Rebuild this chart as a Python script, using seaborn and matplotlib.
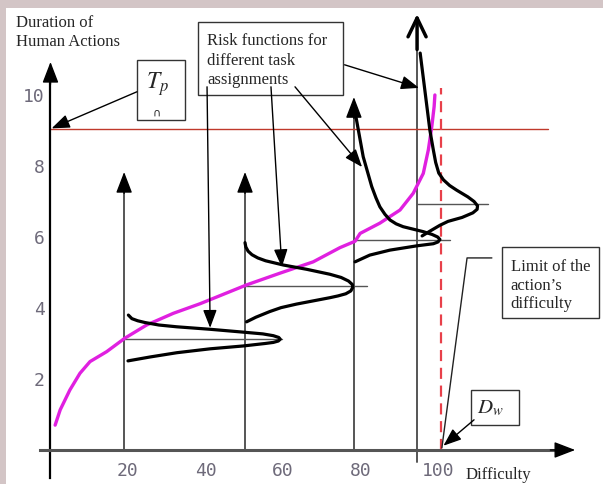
import numpy as np
import pandas as pd
import matplotlib
matplotlib.use('Agg')
from matplotlib import pyplot as plt
from matplotlib.patches import Rectangle
import seaborn as sns

sns.set_style('white')
plt.rcParams['font.family'] = ['Liberation Serif', 'DejaVu Sans']
plt.rcParams['mathtext.fontset'] = 'stix'

# duration of human actions vs difficulty (magenta curve)
dur_x = [1.2, 2.5, 5.0, 7.6, 10.2, 14.5, 19.2, 24.8, 31.7, 38.6, 42.0, 50.6, 59.2, 67.8,
         74.7, 78.6, 79.9, 85.0, 90.2, 93.6, 96.2, 97.5, 98.4, 99.0, 99.2]
dur_y = [0.70, 1.13, 1.69, 2.16, 2.49, 2.77, 3.15, 3.52, 3.85, 4.12, 4.27, 4.65, 4.98, 5.30,
         5.70, 5.88, 6.10, 6.39, 6.76, 7.23, 7.79, 8.45, 9.11, 9.67, 10.0]

# risk functions (sideways bells, x = risk, y = duration)
risk1_x = [20.1, 21.0, 22.5, 24.4, 28.0, 32.6, 41.2, 49.7, 54.8, 57.5, 58.9, 59.3, 58.8,
           57.5, 55.4, 49.7, 41.2, 32.6, 25.7, 20.0]
risk1_y = [3.80, 3.70, 3.64, 3.59, 3.52, 3.47, 3.40, 3.32, 3.27, 3.22, 3.17, 3.12, 3.07,
           3.03, 3.00, 2.93, 2.85, 2.74, 2.62, 2.51]

risk2_x = [50.2, 50.4, 51.0, 52.0, 53.5, 55.5, 60.1, 66.1, 72.1, 75.0, 76.9, 77.9, 78.0,
           77.5, 76.2, 74.2, 72.1, 63.5, 59.5, 56.6, 53.0, 50.6]
risk2_y = [5.84, 5.72, 5.60, 5.50, 5.41, 5.33, 5.21, 5.09, 4.95, 4.86, 4.76, 4.66, 4.58,
           4.48, 4.40, 4.34, 4.29, 4.11, 4.01, 3.90, 3.74, 3.61]

risk3_x = [78.8, 80.7, 82.9, 84.0, 85.0, 86.3, 87.6, 89.2, 91.0, 96.2, 98.5, 99.9, 100.5,
           100.0, 98.8, 94.5, 87.6, 82.4, 78.6]
risk3_y = [9.40, 8.26, 7.42, 7.10, 6.85, 6.64, 6.48, 6.37, 6.29, 6.15, 6.07, 6.00, 5.93,
           5.86, 5.81, 5.75, 5.63, 5.49, 5.30]

risk4_x = [95.4, 96.6, 97.9, 98.8, 99.4, 100.2, 101.4, 103.0, 104.8, 107.7, 109.3, 110.2,
           110.1, 109.0, 106.2, 102.6, 100.5, 98.0, 95.9]
risk4_y = [11.18, 10.14, 9.01, 8.45, 8.10, 7.80, 7.61, 7.45, 7.32, 7.13, 7.00, 6.88,
           6.78, 6.68, 6.55, 6.44, 6.33, 6.17, 6.03]

# task assignments
task_x = [19.0, 50.2, 78.3, 94.6]
task_top = [7.83, 7.83, 9.94, 12.28]
peak_y = [3.13, 4.62, 5.92, 6.93]
peak_end = [59.7, 81.7, 103.1, 112.9]

tp = 9.04          # available time
dw = 100.8         # limit of difficulty

x_ticks = [20, 40, 60, 80, 100]
y_ticks = [2, 4, 6, 8, 10]

curve = pd.DataFrame({'x': dur_x, 'y': dur_y})
risks = [pd.DataFrame({'x': a, 'y': b}) for a, b in
         [(risk1_x, risk1_y), (risk2_x, risk2_y), (risk3_x, risk3_y), (risk4_x, risk4_y)]]

#------------------------------------------------------------------------------
fig = plt.figure(figsize=(6.03, 4.84), dpi=100, facecolor='#d3c5c6')
ax = fig.add_axes([6/603, 0, 597/603, 476/484])
ax.set_facecolor('white')
ax.set_xlim(-11.48, 142.58)
ax.set_ylim(-0.958, 12.45)

for s in ['top', 'right']:
    ax.spines[s].set_visible(False)
ax.spines['left'].set_position(('data', 0))
ax.spines['bottom'].set_position(('data', 0))
ax.spines['left'].set_bounds(-0.79, 10.5)
ax.spines['bottom'].set_bounds(-2.7, 132)
ax.spines['left'].set_color('black')
ax.spines['left'].set_linewidth(1.6)
ax.spines['bottom'].set_color('#555555')
ax.spines['bottom'].set_linewidth(2.2)

ax.set_xticks(x_ticks)
ax.set_xticks(np.arange(5, 101, 5), minor=True)
ax.set_yticks(y_ticks)
ax.set_yticks(np.arange(0.5, 10.1, 0.5), minor=True)
ax.tick_params(which='both', direction='in', length=3, width=1, colors='#333333',
               labelcolor='#6e6a7a', labelsize=13)
ax.tick_params(axis='x', pad=9)
ax.tick_params(axis='y', pad=4)
for lab in ax.get_xticklabels() + ax.get_yticklabels():
    lab.set_fontfamily('DejaVu Sans Mono')

# axis arrowheads
head = dict(arrowstyle='-|>,head_length=1.3,head_width=0.5', fc='black', ec='black',
            lw=1, shrinkA=0, shrinkB=0)
ax.annotate('', xy=(0, 10.93), xytext=(0, 10.3), arrowprops=head, zorder=6)
ax.annotate('', xy=(135.4, 0), xytext=(129, 0), arrowprops=head, zorder=6)

# task assignment lines
for i, (x, top) in enumerate(zip(task_x, task_top)):
    bottom = -0.35 if i == 3 else 0
    ax.plot([x, x], [bottom, top - 0.2], color='#555555', lw=1.4, zorder=2)
    ax.plot([x, peak_end[i]], [peak_y[i], peak_y[i]], color='#555555', lw=1, zorder=2)
    if i < 3:
        ax.annotate('', xy=(x, top), xytext=(x, top - 0.6), arrowprops=head, zorder=6)
    else:
        ax.annotate('', xy=(x, top), xytext=(x, top - 1.0), zorder=6,
                    arrowprops=dict(arrowstyle='->,head_length=1.35,head_width=0.65',
                                    color='black', lw=2.5, shrinkA=0, shrinkB=0))

# limits
ax.plot([0, 128.4], [tp, tp], color='#c0392b', lw=1, zorder=2)
ax.plot([dw, dw], [0, 10.2], color='#e8404a', lw=1.6, ls=(0, (5, 3)), zorder=2)

# curves
sns.lineplot(data=curve, x='x', y='y', sort=False, estimator=None, color='#e020e0',
             lw=2.4, ax=ax, zorder=3, solid_joinstyle='round', solid_capstyle='round')
for r in risks:
    sns.lineplot(data=r, x='x', y='y', sort=False, estimator=None, color='black',
                 lw=2.3, ax=ax, zorder=4, solid_joinstyle='round', solid_capstyle='round')
ax.set_xlabel('')
ax.set_ylabel('')

# text boxes
box = dict(fc='white', ec='#333333', lw=1, zorder=3)
ax.add_patch(Rectangle((38.1, 10.0), 37.4, 2.06, **box))
ax.add_patch(Rectangle((22.3, 9.30), 12.4, 1.69, **box))
ax.add_patch(Rectangle((116.6, 3.72), 24.9, 2.01, **box))
ax.add_patch(Rectangle((108.5, 0.70), 12.4, 0.99, **box))

ax.text(40.4, 11.74, 'Risk functions for\ndifferent task\nassignments', fontsize=12,
        va='top', ha='left', linespacing=1.3, zorder=5)
ax.text(27.6, 10.30, '$T_p$', fontsize=17, ha='center', va='center', zorder=5)
ax.text(27.4, 9.50, '∩', fontsize=8, ha='center', va='center', zorder=5,
        family='DejaVu Sans')
ax.text(118.8, 5.37, 'Limit of the\naction’s\ndifficulty', fontsize=12,
        va='top', ha='left', linespacing=1.2, zorder=5)
ax.text(113.6, 1.18, '$D_w$', fontsize=15, ha='center', va='center', zorder=5)

ax.text(-8.9, 12.24, 'Duration of\nHuman Actions', fontsize=12, va='top', ha='left',
        linespacing=1.25)
ax.text(107.0, -0.70, 'Difficulty', fontsize=12, va='center', ha='left')

# pointers
ptr = dict(arrowstyle='-|>,head_length=1.1,head_width=0.42', fc='black', ec='black',
           lw=1, shrinkA=0, shrinkB=0)
ax.annotate('', xy=(41.2, 3.44), xytext=(40.4, 10.23), arrowprops=ptr, zorder=6)
ax.annotate('', xy=(59.7, 5.15), xytext=(56.9, 10.23), arrowprops=ptr, zorder=6)
ax.annotate('', xy=(80.4, 7.97), xytext=(63.1, 10.23), arrowprops=ptr, zorder=6)
ax.annotate('', xy=(95.1, 10.2), xytext=(75.9, 10.85), arrowprops=ptr, zorder=6)
ax.annotate('', xy=(0.3, 9.06), xytext=(22.3, 10.09), arrowprops=ptr, zorder=6)
ax.annotate('', xy=(101.4, 0.12), xytext=(109.3, 0.85), arrowprops=ptr, zorder=6)
ax.plot([113.9, 107.5, 101.0], [5.41, 5.41, 0.06], color='#222222', lw=1, zorder=5)

plt.savefig('out.png', dpi=100, facecolor=fig.get_facecolor())
